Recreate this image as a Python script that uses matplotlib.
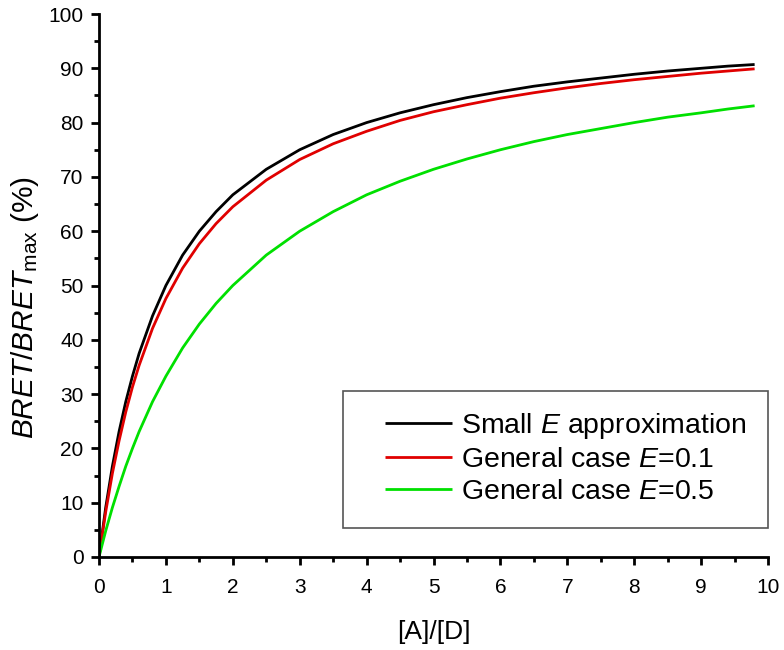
import matplotlib
matplotlib.use("Agg")
import matplotlib.pyplot as plt
from matplotlib.patches import Rectangle
from matplotlib.ticker import MultipleLocator

plt.rcParams['font.family'] = ['Liberation Sans', 'DejaVu Sans']
plt.rcParams['mathtext.fontset'] = 'custom'
plt.rcParams['mathtext.rm'] = 'Liberation Sans'
plt.rcParams['mathtext.it'] = 'Liberation Sans:italic'
plt.rcParams['mathtext.bf'] = 'Liberation Sans:bold'

# Values
ratio = [0, 0.1, 0.2, 0.3, 0.4, 0.5, 0.6, 0.8, 1.0, 1.25, 1.5, 1.75, 2.0, 2.5,
         3.0, 3.5, 4.0, 4.5, 5.0, 5.5, 6.0, 6.5, 7.0, 7.5, 8.0, 8.5, 9.0, 9.4, 9.8]
small_E = [0, 9.1, 16.7, 23.1, 28.6, 33.3, 37.5, 44.4, 50.0, 55.6, 60.0, 63.6, 66.7, 71.4,
           75.0, 77.8, 80.0, 81.8, 83.3, 84.6, 85.7, 86.7, 87.5, 88.2, 88.9, 89.5, 90.0, 90.4, 90.7]
general_E01 = [0, 8.3, 15.4, 21.4, 26.7, 31.3, 35.3, 42.1, 47.6, 53.2, 57.7, 61.4, 64.5, 69.4,
               73.2, 76.1, 78.4, 80.4, 82.0, 83.3, 84.5, 85.5, 86.4, 87.2, 87.9, 88.5, 89.1, 89.5, 89.9]
general_E05 = [0, 4.8, 9.1, 13.0, 16.7, 20.0, 23.1, 28.6, 33.3, 38.5, 42.9, 46.7, 50.0, 55.6,
               60.0, 63.6, 66.7, 69.2, 71.4, 73.3, 75.0, 76.5, 77.8, 78.9, 80.0, 81.0, 81.8, 82.5, 83.1]

series_labels = ["Small $\\mathit{E}$ approximation",
                 "General case $\\mathit{E}$=0.1",
                 "General case $\\mathit{E}$=0.5"]
series_colors = ["#000000", "#e00000", "#00e000"]

W, H = 784, 650
fig = plt.figure(figsize=(W / 100, H / 100), dpi=100)
ax = fig.add_axes([99 / W, 1 - 557 / H, 669 / W, 543 / H])

for ys, lab, col in zip([small_E, general_E01, general_E05], series_labels, series_colors):
    ax.plot(ratio, ys, color=col, lw=2.0, label=lab, solid_capstyle='butt')

ax.set_xlim(0, 10)
ax.set_ylim(0, 100)
ax.xaxis.set_major_locator(MultipleLocator(1))
ax.xaxis.set_minor_locator(MultipleLocator(0.5))
ax.yaxis.set_major_locator(MultipleLocator(10))
ax.yaxis.set_minor_locator(MultipleLocator(5))

for s in ['top', 'right']:
    ax.spines[s].set_visible(False)
for s in ['left', 'bottom']:
    ax.spines[s].set_linewidth(2.0)

ax.tick_params(which='major', direction='out', length=6, width=2.0, labelsize=15)
ax.tick_params(which='minor', direction='out', length=3.5, width=2.0)
ax.tick_params(axis='x', which='major', pad=9)
ax.tick_params(axis='y', which='major', pad=5)

ax.set_xlabel("[A]/[D]", fontsize=19)
ax.xaxis.set_label_coords(0.5, -0.116)
ax.set_ylabel("$\\mathit{BRET/BRET}_{\\mathrm{max}}$ (%)", fontsize=21.5)
ax.yaxis.set_label_coords(-0.087, 0.46)

# legend frame
ax.add_patch(Rectangle((0.3647, 0.0534), 1.0 - 0.3647, 0.306 - 0.0534,
                       transform=ax.transAxes, fill=False, edgecolor='#555555',
                       lw=1.2, clip_on=False, zorder=5))
leg = ax.legend(loc='center left', bbox_to_anchor=(0.4275, 0.182), frameon=False,
                fontsize=20.5, borderpad=0, borderaxespad=0, handlelength=2.35,
                handletextpad=0.33, labelspacing=0.22)
for line in leg.get_lines():
    line.set_linewidth(2.0)

fig.savefig("out.png", dpi=100)
